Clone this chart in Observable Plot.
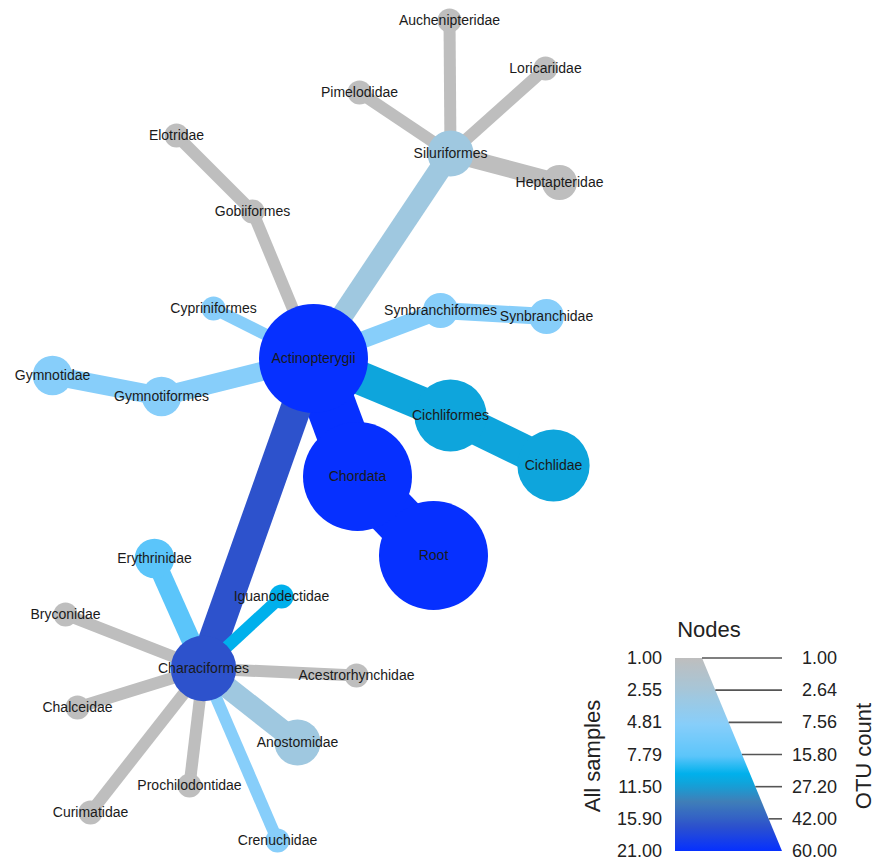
<!DOCTYPE html>
<html><head><meta charset="utf-8">
<script src="https://cdn.jsdelivr.net/npm/d3@7"></script>
<script src="https://cdn.jsdelivr.net/npm/@observablehq/plot@0.6"></script>
<style>
body{margin:0;background:#fff;}
#chart{width:875px;height:863px;position:relative;}
</style>
</head><body><div id="chart"></div>
<script>
// ---- data ----
const taxa = ["Root","Chordata","Actinopterygii","Characiformes","Cichliformes","Siluriformes","Gobiiformes","Cypriniformes","Synbranchiformes","Gymnotiformes","Cichlidae","Auchenipteridae","Loricariidae","Pimelodidae","Heptapteridae","Elotridae","Synbranchidae","Gymnotidae","Erythrinidae","Iguanodectidae","Bryconidae","Acestrorhynchidae","Chalceidae","Anostomidae","Prochilodontidae","Curimatidae","Crenuchidae"];
const parents = [null,"Root","Chordata","Actinopterygii","Actinopterygii","Actinopterygii","Actinopterygii","Actinopterygii","Actinopterygii","Actinopterygii","Cichliformes","Siluriformes","Siluriformes","Siluriformes","Siluriformes","Gobiiformes","Synbranchiformes","Gymnotiformes","Characiformes","Characiformes","Characiformes","Characiformes","Characiformes","Characiformes","Characiformes","Characiformes","Characiformes"];
// layout coordinates of the heat tree
const layoutX = [433,357,313,203,450,450,252,213,440,161,553,449,545,359,559,176,546,52,154,281,65,356,77,297,189,90,277];
const layoutY = [555,476,358,668,415,153,211,308,310,396,465,20,68,92,182,135,316,375,558,596,614,675,707,742,785,812,840];
const otuCount = [60,60,60,15,20,5,1,1,2,3,20,1,1,1,2,1,2,3,3,1,1,1,1,5,1,1,1];
const allSamples = [21,21,21,17,11,3,1,5,5,5,11,1,1,1,1,1,5,5,8,10,1,1,1,3,1,1,5];
// legend tick labels
const sampleTicks = [1.00,2.55,4.81,7.79,11.50,15.90,21.00];
const countTicks = [1.00,2.64,7.56,15.80,27.20,42.00,60.00];
// colour palette stops
const colorStops = [1,3,5,8,10,11,13.5,17,21];
const colorRange = ["#bebebe","#9fc8e0","#87cefa","#5bc5fa","#00b0ec","#0ea5dc","#3f7fb8","#2d52cc","#0630ff"];

const nodes = taxa.map((name,i)=>({name, parent: parents[i], x: layoutX[i], y: layoutY[i], count: otuCount[i], samples: allSamples[i]}));
const byName = new Map(nodes.map(d=>[d.name,d]));
const edges = nodes.filter(d=>d.parent).map(d=>({child:d, parent:byName.get(d.parent)}));
const edgeWidth = d3.scaleSqrt().domain([0,59]).range([12,50]);
const FONT = "'Liberation Sans', Arial, Helvetica, sans-serif";

const plot = Plot.plot({
  width: 875, height: 863, margin: 0,
  x: {domain:[0,875], range:[0,875], axis:null},
  y: {domain:[0,863], range:[0,863], axis:null},
  r: {type:"sqrt", domain:[0,59], range:[12,54.5]},
  color: {type:"linear", domain: colorStops, range: colorRange},
  style: {fontFamily: FONT, background:"white", overflow:"visible"},
  marks: [
    Plot.link(edges, {x1:d=>d.parent.x, y1:d=>d.parent.y, x2:d=>d.child.x, y2:d=>d.child.y,
      stroke:d=>d.child.samples, strokeWidth:d=>edgeWidth(d.child.count-1), strokeLinecap:"butt"}),
    Plot.dot(nodes, {x:"x", y:"y", r:d=>d.count-1, fill:"samples", stroke:null}),
    Plot.text(nodes, {x:"x", y:"y", text:"name", fontSize:14, fill:"#1a1a1a", textAnchor:"middle", lineAnchor:"middle"})
  ]
});
document.getElementById("chart").appendChild(plot);

// ---- legend ----
let colorFn;
try { const s = plot.scale("color"); colorFn = s && s.apply ? (v)=>s.apply(v) : null; } catch(e) { colorFn = null; }
if (!colorFn) { const s = d3.scaleLinear().domain(colorStops).range(colorRange); colorFn = (v)=>s(v); }

const svg = d3.select(plot);
const L = 675, T = 658, B = 851, TR = 702, BR = 782;
const n = sampleTicks.length - 1;
const defs = svg.append("defs");
const grad = defs.append("linearGradient").attr("id","legendGrad").attr("x1",0).attr("y1",0).attr("x2",0).attr("y2",1);
const K = 120;
for (let k=0;k<=K;k++){
  const t = k/K, p = t*n, i = Math.min(n-1, Math.floor(p));
  const v = sampleTicks[i] + (sampleTicks[i+1]-sampleTicks[i])*(p-i);
  grad.append("stop").attr("offset", t).attr("stop-color", colorFn(v));
}
const g = svg.append("g").attr("font-family", FONT);
g.append("polygon").attr("points", `${L},${T} ${TR},${T} ${BR},${B} ${L},${B}`).attr("fill","url(#legendGrad)");
const yAt = i => T + (B-T)*i/n;
countTicks.forEach((c,i)=>{
  const y = yAt(i);
  const xs = TR + (BR-TR)*i/n;
  if (i < n) g.append("line").attr("x1",xs).attr("x2",BR).attr("y1",y).attr("y2",y).attr("stroke","#555").attr("stroke-width",1.6);
  g.append("text").attr("x",837).attr("y",y).attr("text-anchor","end").attr("dominant-baseline","central")
    .attr("font-size",18).attr("fill","#222").text(c.toFixed(2));
});
sampleTicks.forEach((s,i)=>{
  g.append("text").attr("x",662).attr("y",yAt(i)).attr("text-anchor","end").attr("dominant-baseline","central")
    .attr("font-size",18).attr("fill","#222").text(s.toFixed(2));
});
g.append("text").attr("x",709).attr("y",629).attr("text-anchor","middle").attr("dominant-baseline","central")
  .attr("font-size",22).attr("fill","#222").text("Nodes");
g.append("text").attr("transform","translate(592,756) rotate(-90)").attr("text-anchor","middle").attr("dominant-baseline","central")
  .attr("font-size",22).attr("fill","#222").text("All samples");
g.append("text").attr("transform","translate(863,756) rotate(-90)").attr("text-anchor","middle").attr("dominant-baseline","central")
  .attr("font-size",22).attr("fill","#222").text("OTU count");
</script>
</body></html>
